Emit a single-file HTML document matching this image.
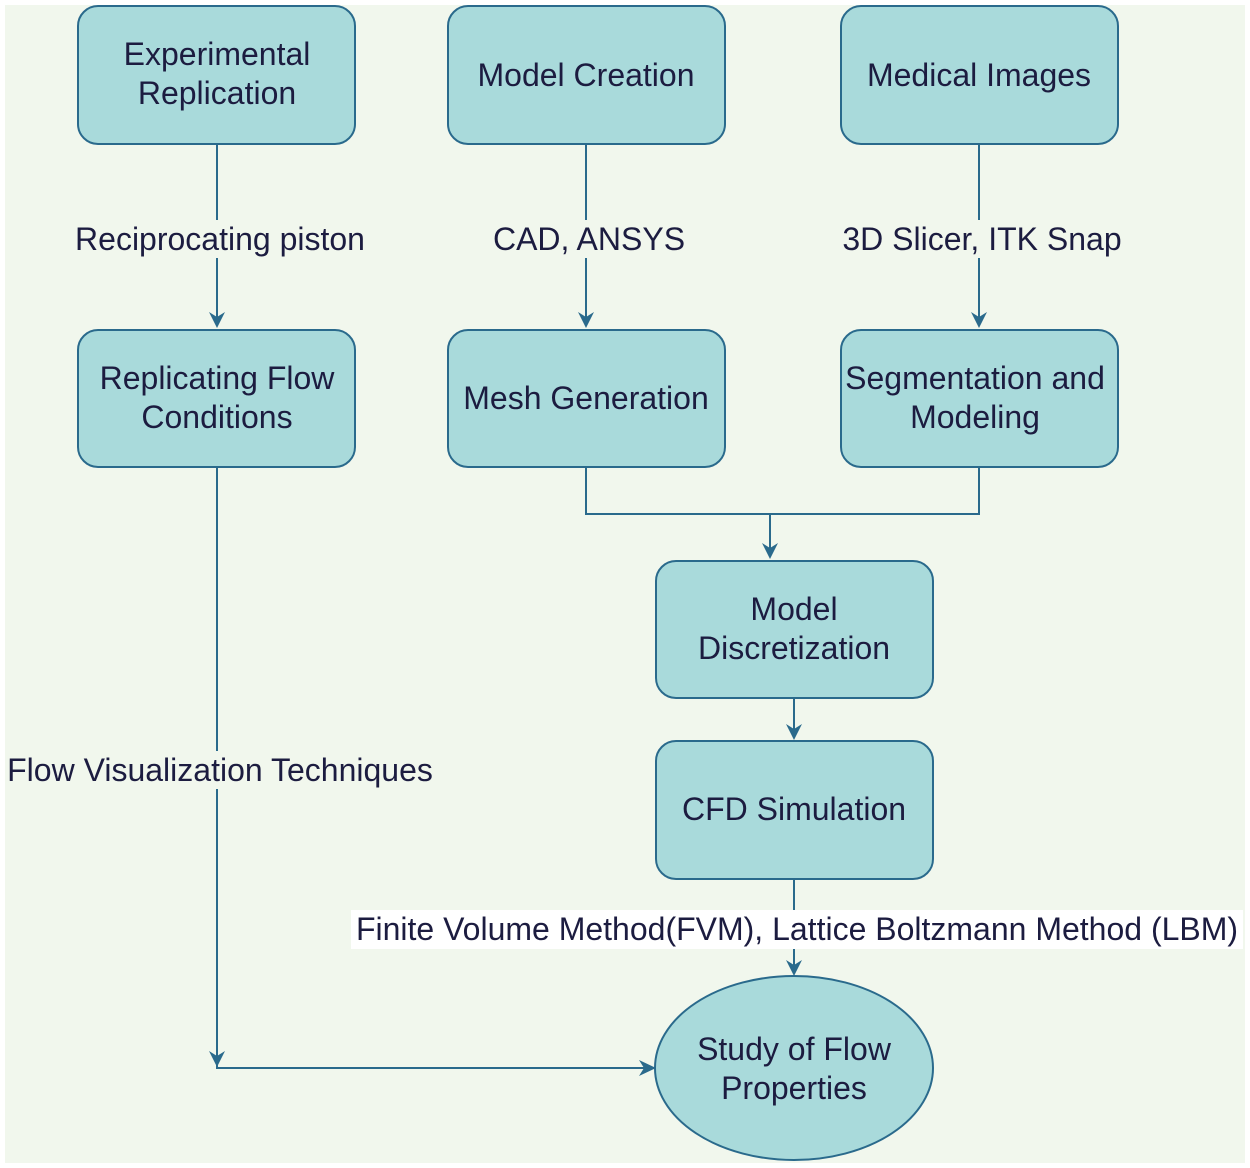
<!DOCTYPE html>
<html><head><meta charset="utf-8"><style>
html,body{margin:0;padding:0;background:#fff;}
svg{display:block;}
text{font-family:"Liberation Sans",Arial,sans-serif;font-size:32px;fill:#1c1c40;}
</style></head><body>
<svg width="1250" height="1168" viewBox="0 0 1250 1168" xmlns="http://www.w3.org/2000/svg">
<rect x="5" y="5" width="1240" height="1158" fill="#f1f7ed"/>
<g fill="#a9dadb" stroke="#2a6a8c" stroke-width="2">
<rect x="78" y="6" width="277" height="138" rx="20"/>
<rect x="448" y="6" width="277" height="138" rx="20"/>
<rect x="841" y="6" width="277" height="138" rx="20"/>
<rect x="78" y="330" width="277" height="137" rx="20"/>
<rect x="448" y="330" width="277" height="137" rx="20"/>
<rect x="841" y="330" width="277" height="137" rx="20"/>
<rect x="656" y="561" width="277" height="137" rx="20"/>
<rect x="656" y="741" width="277" height="138" rx="20"/>
<ellipse cx="794" cy="1068" rx="139" ry="92"/>
</g>
<g stroke="#2a6a8c" stroke-width="2" fill="none">
<path d="M217 144V322"/><path d="M586 144V322"/><path d="M979 144V322"/>
<path d="M586 467V514H979V467"/><path d="M770 514V552"/>
<path d="M794 698V733"/>
<path d="M794 879V968"/>
<path d="M217 467V1068H648"/>
</g>
<g fill="#2a6a8c">
<path d="M209 312L217 328L225 312L217 317Z"/>
<path d="M578 312L586 328L594 312L586 317Z"/>
<path d="M971 312L979 328L987 312L979 317Z"/>
<path d="M762 543L770 559L778 543L770 548Z"/>
<path d="M786 724L794 740L802 724L794 729Z"/>
<path d="M786 960L794 976L802 960L794 965Z"/>
<path d="M209 1051L217 1067L225 1051L217 1056Z"/>
<path d="M639 1060L656 1068L639 1076L644 1068Z"/>
</g>
<rect x="72" y="220" width="296" height="38" fill="#f1f7ed"/>
<rect x="488" y="220" width="202" height="38" fill="#f1f7ed"/>
<rect x="838" y="220" width="288" height="38" fill="#f1f7ed"/>
<rect x="5" y="751" width="432" height="38" fill="#f1f7ed"/>
<rect x="351" y="910" width="892" height="39" fill="#fff"/>
<g text-anchor="middle">
<text x="217" y="65">Experimental</text><text x="217" y="104">Replication</text>
<text x="586" y="86">Model Creation</text>
<text x="979" y="86">Medical Images</text>
<text x="217" y="389">Replicating Flow</text><text x="217" y="428">Conditions</text>
<text x="586" y="409">Mesh Generation</text>
<text x="975" y="389">Segmentation and</text><text x="975" y="428">Modeling</text>
<text x="794" y="620">Model</text><text x="794" y="659">Discretization</text>
<text x="794" y="820">CFD Simulation</text>
<text x="794" y="1060">Study of Flow</text><text x="794" y="1099">Properties</text>
<text x="220" y="250">Reciprocating piston</text>
<text x="589" y="250">CAD, ANSYS</text>
<text x="982" y="250">3D Slicer, ITK Snap</text>
<text x="220" y="781">Flow Visualization Techniques</text>
<text x="797" y="940">Finite Volume Method(FVM), Lattice Boltzmann Method (LBM)</text>
</g>
</svg>
</body></html>
